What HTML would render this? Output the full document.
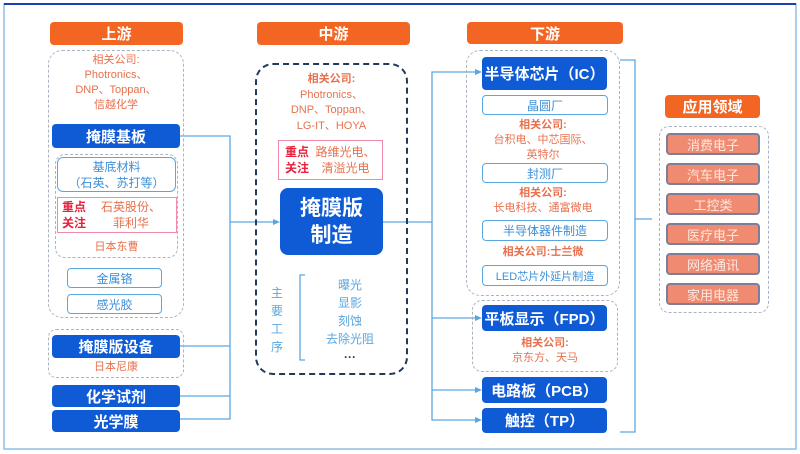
<!DOCTYPE html>
<html><head><meta charset="utf-8"><style>
*{margin:0;padding:0;box-sizing:border-box}
body{width:800px;height:454px;background:#fff;position:relative;overflow:hidden;font-family:"Liberation Sans","Noto Sans CJK SC",sans-serif}
.a{position:absolute}
.hd{background:#f26522;color:#fff;font-weight:bold;font-size:15px;text-align:center;border-radius:4px;display:flex;align-items:center;justify-content:center}
.bb{background:#0f5bd6;color:#fff;font-weight:bold;font-size:15px;border-radius:4px;display:flex;align-items:center;justify-content:center}
.lb{border:1.5px solid #5aa7e0;color:#3d8fd8;font-size:12px;border-radius:4px;display:flex;align-items:center;justify-content:center;text-align:center;background:#fff}
.t{color:#e8704e;font-size:11px;text-align:center;line-height:15px}
.dot{border:1.5px dashed #aab4c0;border-radius:14px}
.pk{border:1.5px solid #f08aa8;display:flex;align-items:center;font-size:12px}
.ap{background:#f08a70;border:2px solid #7d7f9a;border-radius:4px;color:#fde8e0;font-size:13px;display:flex;align-items:center;justify-content:center}
</style></head><body>
<svg class="a" style="left:0;top:0" width="800" height="454">
<rect x="4" y="4" width="792" height="445" fill="none" stroke="#8fc0e8" stroke-width="1.5"/>
<line x1="4" y1="4" x2="796" y2="4" stroke="#1a3fb0" stroke-width="2"/>
<g stroke="#5aa7e0" stroke-width="1.3" fill="none">
<polyline points="180,136 230,136 230,419 180,419"/>
<line x1="180" y1="346" x2="230" y2="346"/>
<line x1="180" y1="396" x2="230" y2="396"/>
<line x1="230" y1="222" x2="278" y2="222"/>
<line x1="383" y1="222" x2="432" y2="222"/>
<polyline points="478,72 432,72 432,420 478,420"/>
<line x1="432" y1="318" x2="478" y2="318"/>
<line x1="432" y1="390" x2="478" y2="390"/>
<polyline points="620,60 635,60 635,432 620,432"/>
<line x1="635" y1="219" x2="652" y2="219"/>
<polyline points="305,275 300,275 300,360 305,360"/>
</g>
<g fill="#5aa7e0"><polygon points="280,222 273,219 273,225"/><polygon points="482,72 475,69 475,75"/><polygon points="482,318 475,315 475,321"/><polygon points="482,390 475,387 475,393"/><polygon points="482,420 475,417 475,423"/></g>
</svg>

<div class="a hd" style="left:50px;top:22px;width:133px;height:23px">上游</div>
<div class="a dot" style="left:48px;top:50px;width:136px;height:268px"></div>
<div class="a t" style="left:48px;top:53px;width:136px;line-height:15px">相关公司:<br>Photronics、<br>DNP、Toppan、<br>信越化学</div>
<div class="a bb" style="left:52px;top:124px;width:128px;height:24px">掩膜基板</div>
<div class="a dot" style="left:55px;top:154px;width:123px;height:104px;border-radius:10px"></div>
<div class="a lb" style="left:57px;top:157px;width:119px;height:35px;line-height:16px;border-radius:6px">基底材料<br>（石英、苏打等）</div>
<div class="a pk" style="left:57px;top:197px;width:120px;height:36px"><span style="color:#e8203c;font-weight:bold;margin-left:4px;line-height:16px">重点<br>关注</span><span style="color:#e8704e;text-align:center;flex:1;line-height:16px">石英股份、<br>菲利华</span></div>
<div class="a t" style="left:55px;top:240px;width:123px">日本东曹</div>
<div class="a lb" style="left:67px;top:268px;width:95px;height:20px">金属铬</div>
<div class="a lb" style="left:67px;top:294px;width:95px;height:20px">感光胶</div>
<div class="a dot" style="left:48px;top:329px;width:136px;height:49px;border-radius:8px"></div>
<div class="a bb" style="left:52px;top:335px;width:128px;height:23px">掩膜版设备</div>
<div class="a t" style="left:48px;top:360px;width:136px">日本尼康</div>
<div class="a bb" style="left:52px;top:385px;width:128px;height:22px">化学试剂</div>
<div class="a bb" style="left:52px;top:410px;width:128px;height:22px">光学膜</div>

<div class="a hd" style="left:257px;top:22px;width:153px;height:23px">中游</div>
<div class="a" style="left:255px;top:63px;width:153px;height:312px;border:2px dashed #1f3a5a;border-radius:18px"></div>
<div class="a t" style="left:255px;top:72px;width:153px;line-height:15.5px"><b>相关公司:</b><br>Photronics、<br>DNP、Toppan、<br>LG-IT、HOYA</div>
<div class="a pk" style="left:278px;top:140px;width:105px;height:40px"><span style="color:#e8203c;font-weight:bold;margin-left:6px;line-height:16px">重点<br>关注</span><span style="color:#e8704e;text-align:center;flex:1;line-height:16px">路维光电、<br>清溢光电</span></div>
<div class="a bb" style="left:280px;top:188px;width:103px;height:67px;font-size:21px;line-height:27px;text-align:center;border-radius:8px">掩膜版<br>制造</div>
<div class="a" style="left:271px;top:284px;width:14px;color:#5aa7e0;font-size:12px;line-height:18px">主<br>要<br>工<br>序</div>
<div class="a" style="left:315px;top:276px;width:70px;color:#5aa7e0;font-size:12px;line-height:18px;text-align:center">曝光<br>显影<br>刻蚀<br>去除光阻<br><b style="color:#1f3a5a">···</b></div>

<div class="a hd" style="left:467px;top:22px;width:156px;height:22px">下游</div>
<div class="a dot" style="left:466px;top:50px;width:154px;height:246px"></div>
<div class="a bb" style="left:482px;top:57px;width:125px;height:33px">半导体芯片（IC）</div>
<div class="a lb" style="left:482px;top:95px;width:126px;height:20px">晶圆厂</div>
<div class="a t" style="left:466px;top:118px;width:154px"><b>相关公司:</b><br>台积电、中芯国际、<br>英特尔</div>
<div class="a lb" style="left:482px;top:163px;width:126px;height:20px">封测厂</div>
<div class="a t" style="left:466px;top:186px;width:154px"><b>相关公司:</b><br>长电科技、通富微电</div>
<div class="a lb" style="left:482px;top:220px;width:126px;height:21px">半导体器件制造</div>
<div class="a t" style="left:466px;top:245px;width:154px"><b>相关公司:士兰微</b></div>
<div class="a lb" style="left:482px;top:265px;width:126px;height:21px;font-size:11px">LED芯片外延片制造</div>
<div class="a dot" style="left:472px;top:300px;width:146px;height:72px;border-radius:10px"></div>
<div class="a bb" style="left:482px;top:305px;width:125px;height:26px">平板显示（FPD）</div>
<div class="a t" style="left:472px;top:336px;width:146px"><b>相关公司:</b><br>京东方、天马</div>
<div class="a bb" style="left:482px;top:377px;width:125px;height:26px">电路板（PCB）</div>
<div class="a bb" style="left:482px;top:408px;width:125px;height:25px">触控（TP）</div>

<div class="a hd" style="left:665px;top:95px;width:95px;height:23px">应用领域</div>
<div class="a dot" style="left:659px;top:126px;width:110px;height:187px;border-radius:10px"></div>
<div class="a ap" style="left:666px;top:133px;width:94px;height:22px">消费电子</div>
<div class="a ap" style="left:666px;top:163px;width:94px;height:22px">汽车电子</div>
<div class="a ap" style="left:666px;top:193px;width:94px;height:22px">工控类</div>
<div class="a ap" style="left:666px;top:223px;width:94px;height:22px">医疗电子</div>
<div class="a ap" style="left:666px;top:253px;width:94px;height:22px">网络通讯</div>
<div class="a ap" style="left:666px;top:283px;width:94px;height:22px">家用电器</div>
</body></html>
